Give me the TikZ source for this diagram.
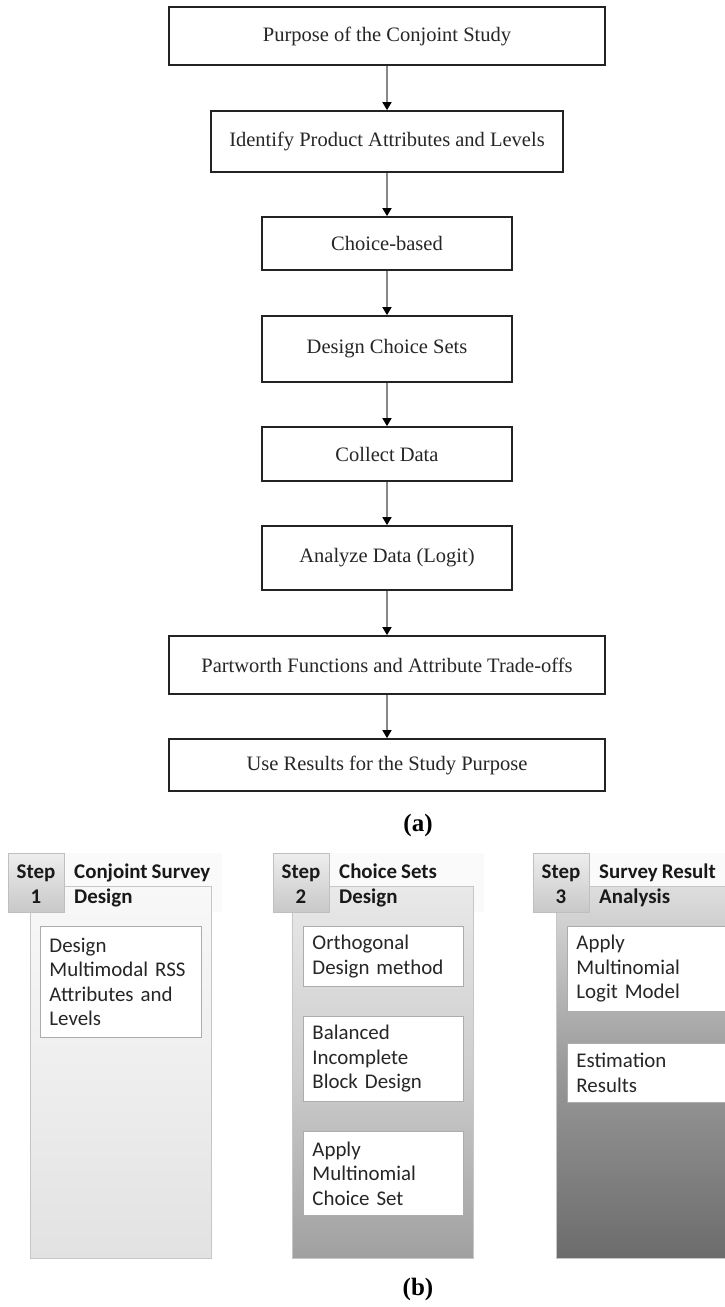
\documentclass[tikz,border=0pt]{standalone}
\usepackage{fontspec}
\setmainfont{Liberation Serif}
\newfontfamily\calibri[WordSpace={0.85,0,0}]{Carlito}
\usepackage{tikz}
\usetikzlibrary{arrows.meta}
\usepackage{xcolor}
\definecolor{boxline}{RGB}{35, 35, 35}
\definecolor{arrowline}{RGB}{135, 135, 135}
\definecolor{tabtop}{RGB}{238, 238, 238}
\definecolor{tabbot}{RGB}{200, 200, 200}
\definecolor{pAtop}{RGB}{248, 248, 248}
\definecolor{pAmid}{RGB}{238, 238, 238}
\definecolor{pAbot}{RGB}{226, 226, 226}
\definecolor{pBtop}{RGB}{233, 233, 233}
\definecolor{pBmid}{RGB}{205, 205, 205}
\definecolor{pBbot}{RGB}{160, 160, 160}
\definecolor{pCtop}{RGB}{222, 222, 222}
\definecolor{pCmid}{RGB}{152, 152, 152}
\definecolor{pCbot}{RGB}{108, 108, 108}

\tikzset{
  flowbox/.style={draw=boxline, line width=1.7pt, fill=white, inner sep=0pt,
    text=black!85, font=\fontsize{20.5}{24}\selectfont},
  flowarrow/.style={draw=arrowline, line width=1.6pt,
    -{Triangle[length=8pt, width=9pt, color=black]}},
  subbox/.style={draw=gray!65, line width=0.9pt, fill=white, anchor=north west,
    align=left, inner xsep=9pt, inner ysep=0pt, text=black!85,
    font=\calibri\fontsize{20.9}{24.5}\selectfont},
  steptext/.style={anchor=base, inner sep=0pt, text=black!90,
    font=\calibri\bfseries\fontsize{20.9}{25}\selectfont},
  sublabel/.style={inner sep=0pt, font=\bfseries\fontsize{25}{30}\selectfont}
}

\begin{document}
\begin{tikzpicture}[x=1pt, y=-1pt]
  \useasboundingbox (0,0) rectangle (725,1307);
  \clip (0,0) rectangle (725,1307);

  % flow chart (a)
  \node[flowbox, minimum width=436pt, minimum height=58pt] (purpose) at (387,36) {Purpose of the Conjoint Study};
  \node[flowbox, minimum width=352pt, minimum height=61pt] (attrib) at (387,141.5) {Identify Product Attributes and Levels};
  \node[flowbox, minimum width=250pt, minimum height=53pt] (choice) at (387,243.5) {Choice-based};
  \node[flowbox, minimum width=250pt, minimum height=66pt] (design) at (387,349) {Design Choice Sets};
  \node[flowbox, minimum width=250pt, minimum height=54pt] (collect) at (387,454) {Collect Data};
  \node[flowbox, minimum width=250pt, minimum height=64pt] (analyze) at (387,558) {Analyze Data (Logit)};
  \node[flowbox, minimum width=436pt, minimum height=58pt] (partworth) at (387,665) {Partworth Functions and Attribute Trade-offs};
  \node[flowbox, minimum width=436pt, minimum height=52pt] (useres) at (387,765) {Use Results for the Study Purpose};

  \foreach \a/\b in {purpose/attrib, attrib/choice, choice/design, design/collect,
                     collect/analyze, analyze/partworth, partworth/useres}
    \draw[flowarrow] (\a) -- (\b);

  \node[sublabel] (labela) at (418,825) {(a)};

  % step panels (b)
  \foreach \n/\tl/\bl/\br/\ct/\cm/\cb/\ta/\tb in {
      1/8/30/211/pAtop/pAmid/pAbot/Conjoint Survey/Design,
      2/273/292/473/pBtop/pBmid/pBbot/Choice Sets/Design,
      3/533/556/745/pCtop/pCmid/pCbot/Survey Result/Analysis} {
    \fill[gray!4] (\tl+56,853) rectangle (\br+11,912);
    \shade[top color=\ct, bottom color=\cb, middle color=\cm] (\bl,886) rectangle (\br,1258);
    \draw[gray!45, line width=0.8pt] (\bl,886) rectangle (\br,1258);
    \shadedraw[top color=tabtop, bottom color=tabbot, draw=gray!50, line width=0.8pt]
      (\tl,853) rectangle (\tl+56,912);
    \node[steptext] (step\n) at (\tl+28,878) {Step};
    \node[steptext] (num\n) at (\tl+28,903) {\n};
    \node[steptext, anchor=base west] (title\n) at (\tl+66,878) {\ta};
    \node[steptext, anchor=base west] (titlesub\n) at (\tl+66,903) {\tb};
  }

  % boxes inside the panels
  \node[subbox, minimum width=161pt, minimum height=111pt, text width=143pt] (rssattr) at (40,926) {Design\\Multimodal RSS\\Attributes and\\Levels};
  \node[subbox, minimum width=160pt, minimum height=60pt, text width=142pt] (ortho) at (303,926) {Orthogonal\\Design method};
  \node[subbox, minimum width=160pt, minimum height=85pt, text width=142pt] (bibd) at (303,1016) {Balanced\\Incomplete\\Block Design};
  \node[subbox, minimum width=160pt, minimum height=84pt, text width=142pt] (mnlset) at (303,1131) {Apply\\Multinomial\\Choice Set};
  \node[subbox, minimum width=173pt, minimum height=85pt, text width=155pt] (mnlmodel) at (567,926) {Apply\\Multinomial\\Logit Model};
  \node[subbox, minimum width=173pt, minimum height=59pt, text width=155pt] (estim) at (567,1043) {Estimation\\Results};

  \node[sublabel] (labelb) at (418,1289) {(b)};
\end{tikzpicture}
\end{document}
